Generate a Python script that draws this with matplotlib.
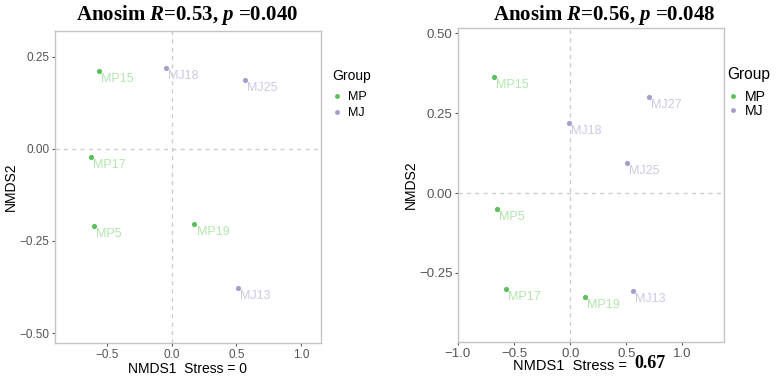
import numpy as np
import matplotlib
matplotlib.use('Agg')
import matplotlib.pyplot as plt
from matplotlib.lines import Line2D

plt.rcParams['font.family'] = ['Liberation Sans', 'DejaVu Sans']
plt.rcParams['mathtext.fontset'] = 'custom'
plt.rcParams['mathtext.rm'] = 'Liberation Serif:bold'
plt.rcParams['mathtext.it'] = 'Liberation Serif:italic:bold'

# data
LEFT_NAMES = ['MP15', 'MP17', 'MP5', 'MP19', 'MJ18', 'MJ25', 'MJ13']
LEFT_GROUP = ['MP', 'MP', 'MP', 'MP', 'MJ', 'MJ', 'MJ']
LEFT_X = [-0.56, -0.62, -0.60, 0.177, -0.046, 0.57, 0.51]
LEFT_Y = [0.212, -0.022, -0.209, -0.204, 0.22, 0.187, -0.378]

RIGHT_NAMES = ['MP15', 'MP5', 'MP17', 'MP19', 'MJ27', 'MJ18', 'MJ25', 'MJ13']
RIGHT_GROUP = ['MP', 'MP', 'MP', 'MP', 'MJ', 'MJ', 'MJ', 'MJ']
RIGHT_X = [-0.68, -0.655, -0.575, 0.13, 0.70, -0.01, 0.505, 0.56]
RIGHT_Y = [0.3625, -0.05, -0.30, -0.325, 0.30, 0.219, 0.094, -0.306]

LEFT_TITLE = ('0.53', '0.040')
RIGHT_TITLE = ('0.56', '0.048')
LEFT_STRESS = '0'
RIGHT_STRESS = '0.67'

GROUPS = ['MP', 'MJ']
POINT_COLOR = {'MP': '#5cbf5c', 'MJ': '#a99ccb'}
LABEL_COLOR = {'MP': '#b2e6ad', 'MJ': '#cdc8e5'}
TICK_GRAY = '#555555'
FRAME_GRAY = '#c4c4c4'


def fmt(v, nd):
    s = ('%.' + str(nd) + 'f') % abs(v)
    return ('\u2212' + s) if v < 0 else s


def draw_panel(fig, ax, names, groups, xs, ys, xlim, ylim, xticks, yticks, leg_pos,
               k=1.0, leg_space=0.3):
    ax.set_xlim(*xlim)
    ax.set_ylim(*ylim)
    ax.axvline(0, color='#cccccc', linestyle=(0, (3, 3)), linewidth=1, zorder=1)
    ax.axhline(0, color='#cccccc', linestyle=(0, (3, 3)), linewidth=1, zorder=1)
    for n, g, x, y in zip(names, groups, xs, ys):
        ax.scatter(x, y, s=14, color=POINT_COLOR[g], zorder=3, linewidths=0)
        ax.annotate(n, (x, y), xytext=(1.5, -1.5), textcoords='offset points',
                    ha='left', va='top', fontsize=9, color=LABEL_COLOR[g], zorder=3)
    ax.set_xticks(xticks)
    ax.set_yticks(yticks)
    ax.set_xticklabels([fmt(t, 1) for t in xticks])
    ax.set_yticklabels([fmt(t, 2) for t in yticks])
    ax.tick_params(colors=TICK_GRAY, labelsize=8.5 * k, length=2.5, width=0.8, pad=1.5)
    for sp in ax.spines.values():
        sp.set_color(FRAME_GRAY)
        sp.set_linewidth(1.0)
    ax.set_ylabel('NMDS2', fontsize=10, labelpad=1)
    handles = [Line2D([], [], marker='o', linestyle='', markersize=3.5,
                      markerfacecolor=POINT_COLOR[g], markeredgewidth=0) for g in GROUPS]
    leg = ax.legend(handles, GROUPS, title='Group', loc='upper left',
                    bbox_to_anchor=leg_pos, bbox_transform=fig.transFigure,
                    frameon=False, fontsize=9 * k, title_fontsize=10 * k, handlelength=0.8,
                    handletextpad=0.5, labelspacing=leg_space, borderpad=0.0,
                    borderaxespad=0.0)
    leg._legend_box.align = 'left'
    leg._legend_box.sep = 6


def main():
    fig = plt.figure(figsize=(7.81, 3.76), dpi=100)
    ax1 = fig.add_axes([0.0704, 0.0878, 0.3406, 0.8298])
    ax2 = fig.add_axes([0.5864, 0.0904, 0.3406, 0.8351])

    draw_panel(fig, ax1, LEFT_NAMES, LEFT_GROUP, LEFT_X, LEFT_Y, (-0.9, 1.154), (-0.527, 0.32),
               [-0.5, 0.0, 0.5, 1.0], [-0.5, -0.25, 0.0, 0.25], (332 / 781, 1 - 69 / 376),
               k=1.0, leg_space=0.3)
    draw_panel(fig, ax2, RIGHT_NAMES, RIGHT_GROUP, RIGHT_X, RIGHT_Y, (-1.0, 1.37), (-0.466, 0.516),
               [-1.0, -0.5, 0.0, 0.5, 1.0], [-0.25, 0.0, 0.25, 0.5], (727 / 781, 1 - 67 / 376),
               k=1.12, leg_space=0.0)

    ax1.set_xlabel('NMDS1  Stress = %s' % LEFT_STRESS, fontsize=10, labelpad=1)
    fig.text(570 / 781, 1 - 366 / 376, 'NMDS1  Stress =', ha='center', va='center', fontsize=10.5)
    fig.text(650 / 781, 1 - 364 / 376, RIGHT_STRESS, ha='center', va='center',
             fontsize=13, fontweight='bold', family=['Liberation Serif'])

    fig.text(187 / 781, 1 - 15 / 376, 'Anosim $R$=%s, $p$ =%s' % LEFT_TITLE,
             ha='center', va='center', fontsize=15, fontweight='bold',
             family=['Liberation Serif'])
    fig.text(604 / 781, 1 - 15 / 376, 'Anosim $R$=%s, $p$ =%s' % RIGHT_TITLE,
             ha='center', va='center', fontsize=15, fontweight='bold',
             family=['Liberation Serif'])

    fig.savefig('out.png', dpi=100)


if __name__ == '__main__':
    main()
